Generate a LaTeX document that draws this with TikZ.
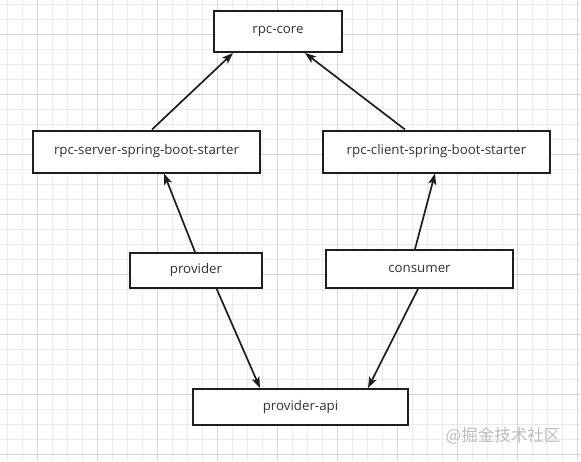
\documentclass[tikz,border=0pt]{standalone}
\usepackage{fontspec}
\setmainfont{Open Sans}
\newfontfamily\cjk{Noto Sans CJK SC}
\usetikzlibrary{arrows.meta,calc}
\definecolor{gridminor}{HTML}{EBEBEB}
\definecolor{gridmajor}{HTML}{D6D6D6}
\definecolor{boxline}{HTML}{1E1E1E}
\definecolor{txt}{HTML}{333333}
\definecolor{wm}{HTML}{BDBDBD}
\tikzset{
  box/.style={draw=boxline, line width=2pt, fill=white, rectangle, inner sep=0pt, text=txt, font=\fontsize{13.3}{15}\selectfont},
  dep/.style={draw=boxline, line width=1.7pt, -{Stealth[length=11pt,width=8pt,inset=2.5pt]}},
}
\begin{document}
\begin{tikzpicture}[x=1pt,y=-1pt]
\useasboundingbox (0,0) rectangle (581,461);
\fill[white] (0,0) rectangle (581,461);
\foreach \x in {7.5,22.5,...,580} \draw[gridminor, line width=0.8pt] (\x,0) -- (\x,461);
\foreach \y in {4.3,19.3,...,460} \draw[gridminor, line width=0.8pt] (0,\y) -- (581,\y);
\foreach \x in {37.5,97.5,...,580} \draw[gridmajor, line width=0.9pt] (\x,0) -- (\x,461);
\foreach \y in {34.3,94.3,...,460} \draw[gridmajor, line width=0.9pt] (0,\y) -- (581,\y);

\node[box, minimum width=128pt, minimum height=41pt] (core) at (278,31.5) {rpc-core};
\node[box, minimum width=227pt, minimum height=42pt] (server) at (146.5,151.5) {rpc-server-spring-boot-starter};
\node[box, minimum width=227pt, minimum height=42pt] (client) at (436.5,151.5) {rpc-client-spring-boot-starter};
\node[box, minimum width=132pt, minimum height=35pt] (provider) at (196,270.5) {provider};
\node[box, minimum width=187pt, minimum height=38pt] (consumer) at (419.5,269) {consumer};
\node[box, minimum width=215pt, minimum height=36pt] (api) at (300.5,407) {provider-api};

\draw[dep] ([xshift=5.5pt]server.north) -- ([xshift=-45pt]core.south);
\draw[dep] ([xshift=-31.5pt]client.north) -- ([xshift=27pt]core.south);
\draw[dep] ([xshift=-1pt]provider.north) -- ([xshift=17.5pt]server.south);
\draw[dep] ([xshift=-4.5pt]consumer.north) -- ([xshift=-1.5pt]client.south);
\draw[dep] ([xshift=20.7pt]provider.south) -- ([xshift=-40.5pt]api.north);
\draw[dep] ([xshift=-1.5pt]consumer.south) -- ([xshift=67.5pt]api.north);

\node[text=wm, font=\cjk\fontsize{16.5}{18}\selectfont, inner sep=0pt] (wmark) at (503,436) {@掘金技术社区};
\end{tikzpicture}
\end{document}
